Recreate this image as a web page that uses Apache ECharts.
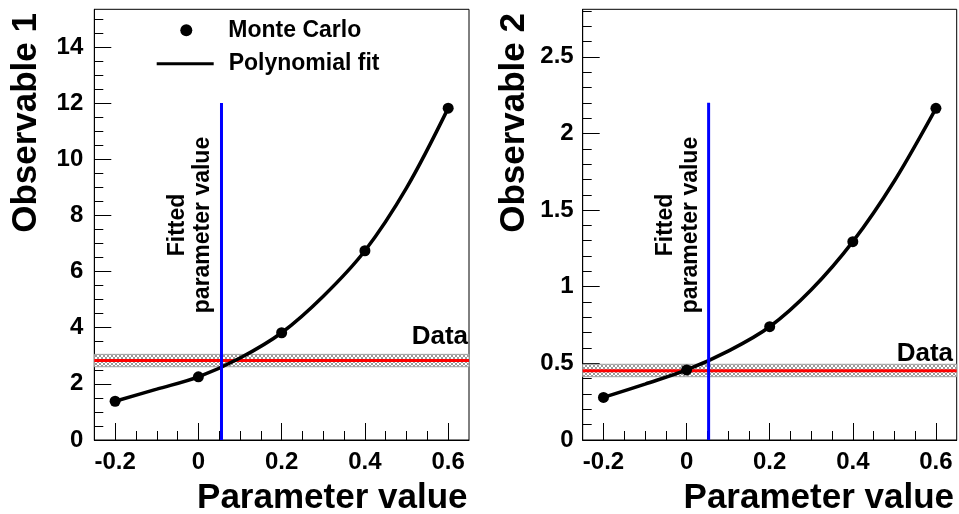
<!DOCTYPE html>
<html><head><meta charset="utf-8">
<script src="https://cdn.jsdelivr.net/npm/echarts@6/dist/echarts.min.js"></script>
<style>html,body{margin:0;padding:0;background:#fff}#c{width:959px;height:514px}</style>
</head><body><div id="c"></div>
<script>
// ---- data ----
const paramValues = [-0.2, 0, 0.2, 0.4, 0.6];
const mcObs1 = [1.38, 2.25, 3.82, 6.74, 11.82];
const mcObs2 = [0.278, 0.457, 0.739, 1.294, 2.164];
const fitX = [-0.2, -0.1, 0, 0.1, 0.2, 0.3, 0.4, 0.5, 0.6];
const fitObs1 = [1.38, 1.81, 2.25, 2.92, 3.82, 5.12, 6.74, 8.98, 11.82];
const fitObs2 = [0.278, 0.365, 0.457, 0.58, 0.739, 0.98, 1.294, 1.69, 2.164];
const dataValue = [2.83, 0.452];
const dataLow = [2.61, 0.413];
const dataHigh = [3.05, 0.494];
const fittedParam = [0.0555, 0.053];
const fittedLineTop = [12, 2.2];
// ---- axes / ticks ----
const xRange = [-0.25, 0.65];
const y1Range = [0, 15.34];
const y2Range = [0, 2.81];
const xTickLabels = [-0.2, 0, 0.2, 0.4, 0.6];
const xMinorTicks = [-0.15, -0.1, -0.05, 0.05, 0.1, 0.15, 0.25, 0.3, 0.35, 0.45, 0.5, 0.55];
const y1TickLabels = [0, 2, 4, 6, 8, 10, 12, 14];
const y1MinorTicks = [0.5, 1, 1.5, 2.5, 3, 3.5, 4.5, 5, 5.5, 6.5, 7, 7.5, 8.5, 9, 9.5, 10.5, 11, 11.5, 12.5, 13, 13.5, 14.5, 15];
const y2TickLabels = [0, 0.5, 1, 1.5, 2, 2.5];
const y2MinorTicks = [0.1, 0.2, 0.3, 0.4, 0.6, 0.7, 0.8, 0.9, 1.1, 1.2, 1.3, 1.4, 1.6, 1.7, 1.8, 1.9, 2.1, 2.2, 2.3, 2.4, 2.6, 2.7, 2.8];

const FONT = "'Liberation Sans', Arial, Helvetica, sans-serif";

// hatch pattern for the data band
const pc = document.createElement('canvas');
pc.width = 4; pc.height = 4;
const pctx = pc.getContext('2d');
pctx.fillStyle = '#ffffff'; pctx.fillRect(0, 0, 4, 4);
pctx.fillStyle = '#999999';
[[0,0],[1,1],[2,2],[3,3],[3,0],[2,1],[1,2],[0,3]].forEach(p => pctx.fillRect(p[0], p[1], 1, 1));
const hatch = { image: pc, repeat: 'repeat' };

const chart = echarts.init(document.getElementById('c'), null, { renderer: 'canvas' });

const gridGeom = [
  { left: 94.3, top: 9.3, width: 374.7, height: 430.7 },
  { left: 582.7, top: 9.3, width: 374, height: 430.7 }
];
const grids = [];
gridGeom.forEach(g => {
  grids.push(Object.assign({ show: true, borderColor: '#000', borderWidth: 1, backgroundColor: 'transparent' }, g));
  grids.push(Object.assign({ show: false }, g));
});

const labelStyle = { color: '#000', fontFamily: FONT, fontWeight: 'bold', fontSize: 24 };

function majorX(gi) {
  return {
    type: 'value', gridIndex: gi, min: xRange[0], max: xRange[1], position: 'bottom',
    axisLine: { show: true, onZero: false, lineStyle: { color: '#000', width: 1 } },
    axisTick: { show: true, inside: true, length: 17, customValues: xTickLabels, lineStyle: { color: '#000', width: 1 } },
    axisLabel: Object.assign({ show: true, customValues: xTickLabels, margin: 10 }, labelStyle),
    splitLine: { show: false }
  };
}
function minorX(gi) {
  return {
    type: 'value', gridIndex: gi, min: xRange[0], max: xRange[1], position: 'bottom',
    axisLine: { show: false, onZero: false },
    axisTick: { show: true, inside: true, length: 9, customValues: xMinorTicks, lineStyle: { color: '#000', width: 1 } },
    axisLabel: { show: false },
    splitLine: { show: false }
  };
}
function majorY(gi, range, ticks, margin) {
  return {
    type: 'value', gridIndex: gi, min: range[0], max: range[1], position: 'left',
    axisLine: { show: true, onZero: false, lineStyle: { color: '#000', width: 1 } },
    axisTick: { show: true, inside: true, length: 17, customValues: ticks, lineStyle: { color: '#000', width: 1 } },
    axisLabel: Object.assign({ show: true, customValues: ticks, margin: margin }, labelStyle),
    splitLine: { show: false }
  };
}
function minorY(gi, range, ticks) {
  return {
    type: 'value', gridIndex: gi, min: range[0], max: range[1], position: 'left',
    axisLine: { show: false, onZero: false },
    axisTick: { show: true, inside: true, length: 9, customValues: ticks, lineStyle: { color: '#000', width: 1 } },
    axisLabel: { show: false },
    splitLine: { show: false }
  };
}

function bandSeries(ax, idx) {
  return {
    type: 'custom', xAxisIndex: ax, yAxisIndex: ax, z: 1, silent: true,
    data: [[dataLow[idx], dataHigh[idx], dataValue[idx]]],
    encode: { x: [], y: [0, 1, 2] },
    renderItem: function (params, api) {
      const cs = params.coordSys;
      const yHi = api.coord([0, api.value(1)])[1];
      const yLo = api.coord([0, api.value(0)])[1];
      const yC = api.coord([0, api.value(2)])[1];
      return {
        type: 'group',
        children: [
          { type: 'rect', shape: { x: cs.x, y: yHi, width: cs.width, height: yLo - yHi },
            style: { fill: hatch, stroke: '#a0a0a0', lineWidth: 1 } },
          { type: 'line', shape: { x1: cs.x, y1: yC, x2: cs.x + cs.width, y2: yC },
            style: { stroke: '#ff0000', lineWidth: 3 } }
        ]
      };
    }
  };
}

function panelSeries(ax, mc, fit, idx) {
  return [
    bandSeries(ax, idx),
    {
      name: 'Polynomial fit', type: 'line', xAxisIndex: ax, yAxisIndex: ax, z: 3,
      data: fitX.map((x, i) => [x, fit[i]]), smooth: 0.35, showSymbol: false, symbol: 'none',
      lineStyle: { color: '#000', width: 3.5 }, itemStyle: { color: '#000' }, silent: true
    },
    {
      name: 'Monte Carlo', type: 'scatter', xAxisIndex: ax, yAxisIndex: ax, z: 4,
      data: paramValues.map((x, i) => [x, mc[i]]), symbol: 'circle', symbolSize: 11,
      itemStyle: { color: '#000', opacity: 1 }, silent: true
    },
    {
      type: 'line', xAxisIndex: ax, yAxisIndex: ax, z: 5,
      data: [[fittedParam[idx], 0], [fittedParam[idx], fittedLineTop[idx]]],
      showSymbol: false, symbol: 'none', lineStyle: { color: '#0000ff', width: 3 }, silent: true
    }
  ];
}

const legendText = { color: '#000', fontFamily: FONT, fontWeight: 'bold', fontSize: 23 };

const option = {
  animation: false,
  backgroundColor: '#fff',
  grid: grids,
  xAxis: [majorX(0), minorX(1), majorX(2), minorX(3)],
  yAxis: [majorY(0, y1Range, y1TickLabels, 11), minorY(1, y1Range, y1MinorTicks),
          majorY(2, y2Range, y2TickLabels, 9), minorY(3, y2Range, y2MinorTicks)],
  legend: [
    { data: ['Monte Carlo'], left: 180.3, top: 18.8, padding: 0, itemWidth: 74, itemHeight: 12,
      icon: 'circle', selectedMode: false, textStyle: Object.assign({ lineHeight: 12 }, legendText) },
    { data: ['Polynomial fit'], left: 156.7, top: 52.2, padding: 0, itemWidth: 57, itemHeight: 3,
      icon: 'rect', selectedMode: false, textStyle: Object.assign({ lineHeight: 3, padding: [0, 0, 0, 10] }, legendText) }
  ],
  series: [].concat(panelSeries(0, mcObs1, fitObs1, 0), panelSeries(2, mcObs2, fitObs2, 1)),
  graphic: [
    { type: 'text', x: 26, y: 13, rotation: Math.PI / 2, silent: true,
      style: { text: 'Observable 1', font: "bold 35px " + FONT, fill: '#000', align: 'right', verticalAlign: 'middle' } },
    { type: 'text', x: 514.6, y: 13, rotation: Math.PI / 2, silent: true,
      style: { text: 'Observable 2', font: "bold 35px " + FONT, fill: '#000', align: 'right', verticalAlign: 'middle' } },
    { type: 'text', x: 467.5, y: 498, silent: true,
      style: { text: 'Parameter value', font: "bold 35px " + FONT, fill: '#000', align: 'right', verticalAlign: 'middle' } },
    { type: 'text', x: 954, y: 498, silent: true,
      style: { text: 'Parameter value', font: "bold 35px " + FONT, fill: '#000', align: 'right', verticalAlign: 'middle' } },
    { type: 'text', x: 468, y: 337, silent: true,
      style: { text: 'Data', font: "bold 26px " + FONT, fill: '#000', align: 'right', verticalAlign: 'middle' } },
    { type: 'text', x: 953, y: 353.5, silent: true,
      style: { text: 'Data', font: "bold 26px " + FONT, fill: '#000', align: 'right', verticalAlign: 'middle' } },
    { type: 'text', x: 190, y: 225, rotation: Math.PI / 2, silent: true,
      style: { text: 'Fitted\nparameter value', font: "bold 23px " + FONT, lineHeight: 25, fill: '#000', align: 'center', verticalAlign: 'middle' } },
    { type: 'text', x: 678, y: 225, rotation: Math.PI / 2, silent: true,
      style: { text: 'Fitted\nparameter value', font: "bold 23px " + FONT, lineHeight: 25, fill: '#000', align: 'center', verticalAlign: 'middle' } }
  ]
};
chart.setOption(option);
</script>
</body></html>
